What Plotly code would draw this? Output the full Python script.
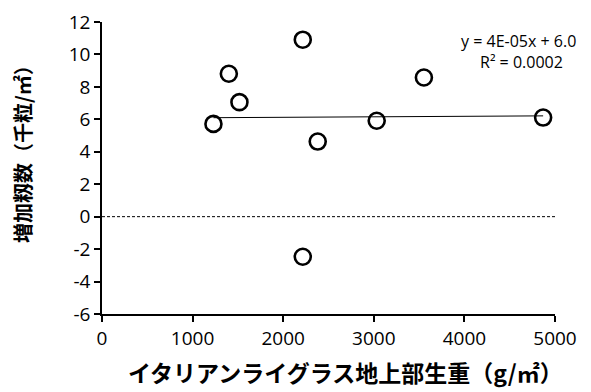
import numpy as np
import plotly.graph_objects as go

# Data
biomass = [1230, 1400, 1517, 2216, 2381, 2216, 3032, 3553, 4869]   # g/m2
grain_increase = [5.72, 8.81, 7.06, 10.91, 4.63, -2.47, 5.91, 8.58, 6.11]  # 千粒/m2
equation_text = "y = 4E-05x + 6.0"
r2_text = "R² = 0.0002"
x_ticks = [0, 1000, 2000, 3000, 4000, 5000]
y_ticks = [-6, -4, -2, 0, 2, 4, 6, 8, 10, 12]
y_tick_labels = ["-6", "-4", "-2", "0", "2", "4", "6", "8", "10", "12"]
x_title = "イタリアンライグラス地上部生重（g/㎡）"
y_title = "増加籾数（千粒/㎡）"

slope, intercept = np.polyfit(biomass, grain_increase, 1)
x_fit = [min(biomass), max(biomass)]
y_fit = [slope * v + intercept for v in x_fit]

fig = go.Figure()
fig.add_trace(go.Scatter(x=[0, 5000], y=[0, 0], mode="lines",
                         line=dict(color="black", width=1, dash="3px,2px"),
                         hoverinfo="skip", showlegend=False))
fig.add_trace(go.Scatter(x=x_fit, y=y_fit, mode="lines",
                         line=dict(color="black", width=1),
                         showlegend=False))
fig.add_trace(go.Scatter(x=biomass, y=grain_increase, mode="markers",
                         marker=dict(symbol="circle-open", size=16, color="black",
                                     line=dict(width=2.6, color="black")),
                         showlegend=False))

latin = "Open Sans, Lato, sans-serif"
cjk = "Noto Sans CJK JP, sans-serif"

fig.add_annotation(x=0.92, y=10.85, xref="paper", yref="y", text=equation_text,
                   showarrow=False, xanchor="center", yanchor="middle",
                   font=dict(family=latin, size=16, color="black"))
fig.add_annotation(x=0.925, y=9.55, xref="paper", yref="y", text=r2_text,
                   showarrow=False, xanchor="center", yanchor="middle",
                   font=dict(family=latin, size=16, color="black"))

# axis titles as annotations for exact placement
fig.add_annotation(x=0.5386, y=-0.199, xref="paper", yref="paper",
                   text="<b>" + x_title + "</b>", showarrow=False,
                   xanchor="center", yanchor="middle",
                   font=dict(family=cjk, size=23, color="black"))
fig.add_annotation(x=-0.1766, y=0.565, xref="paper", yref="paper",
                   text="<b>" + y_title + "</b>", showarrow=False, textangle=-90,
                   xanchor="center", yanchor="middle",
                   font=dict(family=cjk, size=20, color="black"))

# page body adds an 8px offset, so margins are compensated
fig.update_layout(
    width=591, height=392,
    margin=dict(l=94, r=44, t=14, b=86),
    paper_bgcolor="white", plot_bgcolor="white",
    font=dict(family=latin, size=19, color="black"),
    xaxis=dict(range=[0, 5000], tickvals=x_ticks, ticks="outside", ticklen=6,
               tickwidth=1.5, tickcolor="black", showline=True, linecolor="black",
               linewidth=1.5, showgrid=False, zeroline=False, automargin=False),
    yaxis=dict(range=[-6, 12], tickvals=y_ticks, ticktext=y_tick_labels,
               ticks="outside", ticklen=6,
               tickwidth=1.5, tickcolor="black", showline=True, linecolor="black",
               linewidth=1.5, showgrid=False, zeroline=False, automargin=False),
)

fig.write_html("out.html")
